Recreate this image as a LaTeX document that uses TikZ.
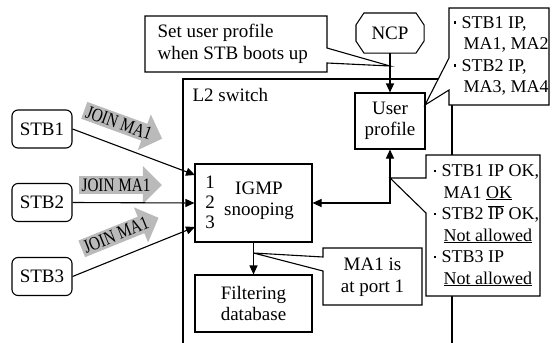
\documentclass[tikz,border=0pt]{standalone}
\usepackage{graphicx}
\usepackage{fontspec}
\setmainfont{Liberation Serif}
\usetikzlibrary{shapes.arrows,arrows.meta}
\newcommand{\mybul}{\makebox[8pt][l]{\raisebox{4.5pt}{\rule{2.4pt}{2.4pt}}}}
\newcommand{\myind}{\hspace*{10pt}}
\begin{document}
\begin{tikzpicture}[x=1pt,y=-1pt,line width=1.1pt,
  every node/.style={font=\fontsize{19}{21.5}\selectfont,inner sep=0pt},
  small/.style={font=\fontsize{18}{21.5}\selectfont},
  tip/.style={-{Triangle[length=9pt,width=8pt]}},
  boxn/.style={draw,fill=white,align=center},
  stb/.style={draw,rounded corners=6pt,minimum width=60pt,minimum height=38pt},
  callout/.style={draw,fill=white,line join=miter},
  joinarrow/.style={single arrow,fill=black!27,single arrow head extend=10pt,inner xsep=2pt,inner ysep=2pt}]
\useasboundingbox (0,0) rectangle (555,343);

% L2 switch
\coordinate (l2bl) at (183,343);
\coordinate (l2tl) at (183,79);
\coordinate (l2tr) at (452,79);
\coordinate (l2br) at (452,343);
\draw (l2bl) -- (l2tl) -- (l2tr) -- (l2br);
\node[anchor=base west] (l2) at (192,101) {L2 switch};

% Set user profile callout
\coordinate (tA) at (390,66);
\draw[callout] (145,16) -- (327,16) -- (327,48) -- (tA) -- (327,63) -- (327,72) -- (145,72) -- cycle;
\node[align=left,anchor=west] (setc) at (157,44) {Set user profile\\when STB boots up};

% NCP
\node[minimum width=67pt,minimum height=39pt] (ncp) at (390,33) {NCP};
\draw ([xshift=8pt]ncp.north west) -- ([xshift=-8pt]ncp.north east) -- ([yshift=-12pt]ncp.north east) -- ([yshift=12pt]ncp.south east) -- ([xshift=-8pt]ncp.south east) -- ([xshift=8pt]ncp.south west) -- ([yshift=12pt]ncp.south west) -- ([yshift=-12pt]ncp.north west) -- cycle;

% User profile
\node[boxn,minimum width=70pt,minimum height=56pt] (up) at (390,121) {User\\profile};
\draw[tip] (ncp.south) -- (up.north);

% top-right callout
\coordinate (tB) at (425,105);
\draw[callout] (449,8) -- (549,8) -- (549,105) -- (449,105) -- (449,90) -- (tB) -- (449,58) -- cycle;
\node[small,align=left,anchor=west] (c2) at (453,56) {\mybul STB1 IP,\\\myind MA1, MA2\\\mybul STB2 IP,\\\myind MA3, MA4};

% IGMP snooping
\node[boxn,minimum width=117pt,minimum height=78pt] (igmp) at (253.5,203) {};
\node[align=center] (igt) at (259,201) {IGMP\\snooping};
\node (n1) at (210,182) {1};
\node (n2) at (210,202) {2};
\node (n3) at (210,222) {3};

% Filtering database
\node[boxn,minimum width=117pt,minimum height=57pt] (fdb) at (253.5,303.5) {Filtering\\database};
\draw[tip] (igmp.south) -- (fdb.north);

% MA1 callout
\coordinate (tD) at (253.5,253);
\draw[callout] (323,248) -- (422,248) -- (422,305) -- (323,305) -- (323,271) -- (tD) -- (323,257) -- cycle;
\node[align=center] (c3) at (372.5,277) {MA1 is\\at port 1};

% bidirectional arrow
\draw[{Triangle[length=9pt,width=8pt]}-{Triangle[length=9pt,width=8pt]}] (igmp.east) -| (up.south);

% bottom-right callout
\coordinate (tC) at (390,178);
\draw[callout] (426,155) -- (540,155) -- (540,296) -- (426,296) -- (426,213) -- (tC) -- (426,178) -- cycle;
\node[small,align=left,anchor=west] (c4) at (433,225.5) {\mybul STB1 IP OK,\\\myind MA1 \underline{OK}\\\mybul STB2 $\overline{\mbox{IP}}$ OK,\\\myind\underline{Not allowed}\\\mybul STB3 IP\\\myind\underline{Not allowed}};

% STBs
\node[stb] (s1) at (42,129) {STB1};
\node[stb] (s2) at (42,202.5) {STB2};
\node[stb] (s3) at (42,276.5) {STB3};

% JOIN arrows
\node[joinarrow,rotate=-20] (j1) at (119,123) {\scalebox{0.8}[1]{JOIN MA1}};
\node[joinarrow] (j2) at (116,185) {\scalebox{0.8}[1]{JOIN MA1}};
\node[joinarrow,rotate=22] (j3) at (116,235) {\scalebox{0.8}[1]{JOIN MA1}};

\coordinate (p1) at (195,175);
\coordinate (p3) at (195,227);
\draw[tip] (s1.east) -- (p1);
\draw[tip] (s2.east) -- (igmp.west);
\draw[tip] (s3.east) -- (p3);
\end{tikzpicture}
\end{document}
